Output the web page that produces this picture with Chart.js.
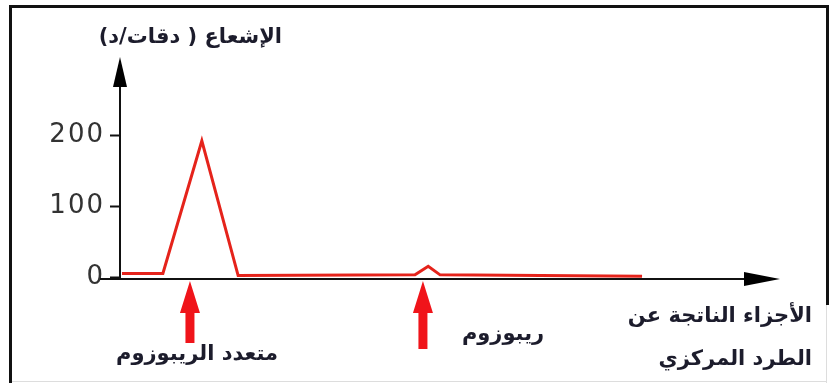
<!DOCTYPE html>
<html>
<head>
<meta charset="utf-8">
<script src="https://cdn.jsdelivr.net/npm/chart.js@4/dist/chart.umd.min.js"></script>
<style>
  html, body { margin: 0; padding: 0; background: #fff; }
  #wrap { position: relative; width: 833px; height: 383px; }
</style>
</head>
<body>
<div id="wrap"><canvas id="chart" width="833" height="383"></canvas></div>
<script>
// centrifuge fractions (x: position along the tube, arbitrary units)
const fractionPos = [0.3, 6.5, 12.4, 17.9, 44.7, 46.7, 48.5, 79.1];
const radioactivity = [5, 5, 192, 2, 3, 15, 3, 1];
const yTicks = [0, 100, 200];

// red arrows under the x axis and their labels
const markerPos = [10.6, 45.9];
const markerLabels = ['متعدد الريبوزوم', 'ريبوزوم'];

const yTitle = 'الإشعاع ( دقات/د)';
const xTitle = ['الأجزاء الناتجة عن', 'الطرد المركزي'];

const TEXT = '#1c1c2c';
const ARABIC_FONT = 'bold 21px "DejaVu Sans", sans-serif';

// axes with arrow heads, frame, red arrows and Arabic labels
const decorations = {
  id: 'decorations',
  beforeDraw(chart) {
    const ctx = chart.ctx;
    ctx.save();
    // scan frame
    ctx.fillStyle = '#111';
    ctx.fillRect(10, 5, 818, 3);
    ctx.fillRect(9, 5, 3, 378);
    ctx.fillRect(826, 5, 3, 300);
    ctx.fillStyle = '#ddd';
    ctx.fillRect(826, 305, 1, 78);
    ctx.fillRect(12, 381, 815, 1);
    ctx.restore();
    // slightly wider digits, like the scanned figure
    ctx.letterSpacing = '2px';
  },
  afterDraw(chart) {
    const ctx = chart.ctx;
    ctx.letterSpacing = '0px';
    const x = chart.scales.x, y = chart.scales.y;
    const x0 = x.getPixelForValue(0);
    const y0 = y.getPixelForValue(0);
    ctx.save();
    ctx.fillStyle = '#000';
    ctx.strokeStyle = '#111';

    // y axis with arrow
    ctx.lineWidth = 2;
    ctx.beginPath();
    ctx.moveTo(x0, y0 + 2);
    ctx.lineTo(x0, chart.chartArea.top + 25);
    ctx.stroke();
    ctx.beginPath();
    ctx.moveTo(x0, chart.chartArea.top);
    ctx.lineTo(x0 - 7, chart.chartArea.top + 30);
    ctx.lineTo(x0 + 7, chart.chartArea.top + 30);
    ctx.closePath();
    ctx.fill();

    // x axis with arrow
    const xEnd = x.getPixelForValue(100);
    ctx.lineWidth = 2;
    ctx.beginPath();
    ctx.moveTo(x0 - 20, y0 + 2);
    ctx.lineTo(xEnd - 30, y0 + 2);
    ctx.stroke();
    ctx.beginPath();
    ctx.moveTo(xEnd, y0 + 2);
    ctx.lineTo(xEnd - 36, y0 - 5);
    ctx.lineTo(xEnd - 36, y0 + 9);
    ctx.closePath();
    ctx.fill();

    // red arrows
    ctx.fillStyle = '#f0141a';
    const lengths = [62, 68];
    markerPos.forEach((v, i) => {
      const px = x.getPixelForValue(v);
      const top = y0 + 4;
      ctx.beginPath();
      ctx.moveTo(px, top);
      ctx.lineTo(px - 10, top + 32);
      ctx.lineTo(px - 4.5, top + 32);
      ctx.lineTo(px - 4.5, top + lengths[i]);
      ctx.lineTo(px + 4.5, top + lengths[i]);
      ctx.lineTo(px + 4.5, top + 32);
      ctx.lineTo(px + 10, top + 32);
      ctx.closePath();
      ctx.fill();
    });

    // Arabic text
    ctx.fillStyle = TEXT;
    ctx.font = ARABIC_FONT;
    ctx.direction = 'rtl';
    ctx.textBaseline = 'middle';
    ctx.textAlign = 'center';
    ctx.fillText(markerLabels[0], 197, 355);
    ctx.fillText(markerLabels[1], 503, 335);
    ctx.textAlign = 'right';
    ctx.fillText(yTitle, 282, 38);
    ctx.fillText(xTitle[0], 812, 317);
    ctx.fillText(xTitle[1], 812, 360);
    ctx.restore();
  }
};

new Chart(document.getElementById('chart'), {
  type: 'line',
  data: {
    datasets: [{
      data: fractionPos.map((v, i) => ({ x: v, y: radioactivity[i] })),
      borderColor: '#e5231b',
      borderWidth: 3,
      pointRadius: 0,
      tension: 0,
      clip: false
    }]
  },
  options: {
    responsive: false,
    animation: false,
    events: [],
    layout: { padding: { left: 0, right: 53, top: 57, bottom: 0 } },
    plugins: { legend: { display: false }, tooltip: { enabled: false } },
    scales: {
      x: {
        type: 'linear',
        min: 0,
        max: 100,
        grid: { display: false },
        border: { display: false },
        ticks: { display: false },
        afterFit(scale) { scale.height = 106; }
      },
      y: {
        min: 0,
        max: 310,
        afterBuildTicks(scale) { scale.ticks = yTicks.map(v => ({ value: v })); },
        afterFit(scale) { scale.width = 120; },
        grid: {
          drawOnChartArea: false,
          drawTicks: true,
          tickLength: 10,
          tickWidth: 2,
          color: '#111'
        },
        border: { display: false },
        ticks: {
          padding: 5,
          color: '#333',
          font: { family: '"DejaVu Sans", sans-serif', size: 26 }
        }
      }
    }
  },
  plugins: [decorations]
});
</script>
</body>
</html>
